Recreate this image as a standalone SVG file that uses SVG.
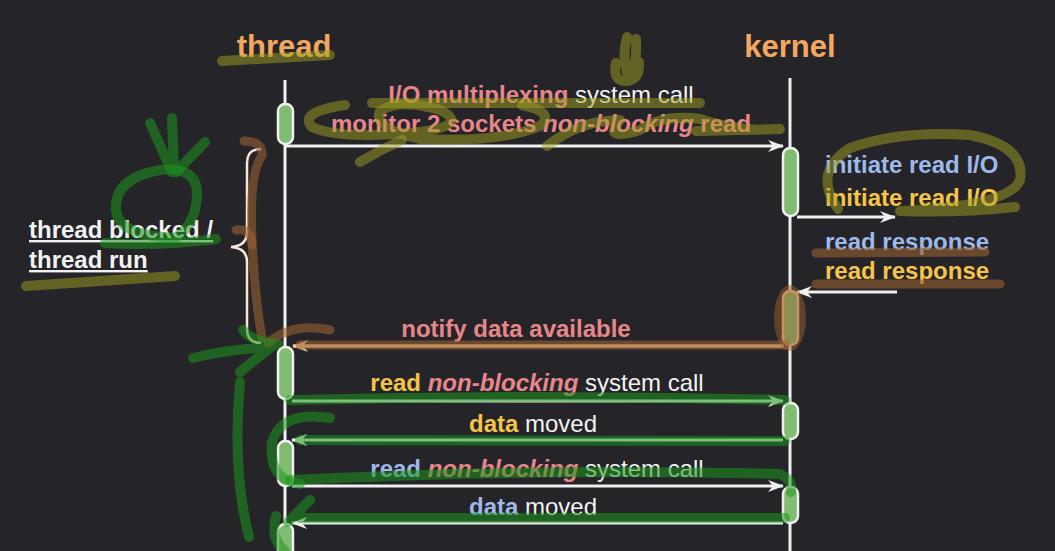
<svg xmlns="http://www.w3.org/2000/svg" width="1055" height="551" viewBox="0 0 1055 551">
<defs>
<style>
.t{font-family:"Liberation Sans",Arial,sans-serif;font-weight:bold;font-size:24px}
.title{font-family:"Liberation Sans",Arial,sans-serif;font-weight:bold;font-size:31px;fill:#f2a860}
.pk{fill:#e8878b}
.wh{fill:#f2f2f2;font-weight:normal}
.bl{fill:#9db9ea}
.ye{fill:#f5c54a}
.it{font-style:italic}
.life{stroke:#f0f0f0;stroke-width:3;fill:none}
.act{fill:#80bd72;stroke:#f0f0f0;stroke-width:2.5}
.acto{fill:#80bd72;stroke:#f5c79a;stroke-width:2.5}
.msg{stroke:#f0f0f0;stroke-width:3;fill:none;marker-end:url(#aw)}
.msgo{stroke:#f7cfa6;stroke-width:3.5;fill:none;marker-end:url(#ao)}
.hl{fill:none;stroke-linecap:round;stroke-linejoin:round}
.ol{stroke:#a0a022;stroke-opacity:0.5;stroke-width:10}
.gr{stroke:#1e961e;stroke-opacity:0.55;stroke-width:10}
.br{stroke:#9a6030;stroke-opacity:0.6;stroke-width:9}
</style>
<marker id="aw" viewBox="0 0 16 12" refX="15" refY="6" markerWidth="16" markerHeight="12" markerUnits="userSpaceOnUse" orient="auto">
<path d="M0,0 L16,6 L0,12 L5,6 z" fill="#f0f0f0"/>
</marker>
<marker id="ao" viewBox="0 0 16 12" refX="15" refY="6" markerWidth="16" markerHeight="12" markerUnits="userSpaceOnUse" orient="auto">
<path d="M0,0 L16,6 L0,12 L5,6 z" fill="#f7cfa6"/>
</marker>
</defs>
<rect width="1055" height="551" fill="#252428"/>

<g id="thread">
<text class="title" x="284" y="57" text-anchor="middle">thread</text>
<line class="life" x1="285" y1="80" x2="285" y2="551"/>
</g>
<g id="kernel">
<text class="title" x="790" y="57" text-anchor="middle">kernel</text>
<line class="life" x1="790" y1="78" x2="790" y2="551"/>
</g>

<g id="connectors">
<line class="msg" x1="286" y1="146" x2="783" y2="146"/>
<line class="msg" x1="797" y1="217" x2="895" y2="217"/>
<line class="msg" x1="897" y1="292" x2="797" y2="292"/>
<line class="msgo" x1="784" y1="346" x2="293" y2="346"/>
<line class="msg" x1="292" y1="401" x2="783" y2="401"/>
<line class="msg" x1="783" y1="440" x2="292" y2="440"/>
<line class="msg" x1="292" y1="486" x2="783" y2="486"/>
<line class="msg" x1="783" y1="523" x2="292" y2="523"/>
</g>

<g id="activations">
<rect class="act" x="278" y="104" width="15" height="40" rx="7"/>
<rect class="act" x="783" y="148" width="15" height="68" rx="7"/>
<rect class="acto" x="783" y="291" width="15" height="54" rx="7"/>
<rect class="act" x="278" y="347" width="15" height="52" rx="7"/>
<rect class="act" x="783" y="403" width="15" height="36" rx="7"/>
<rect class="act" x="278" y="441" width="15" height="45" rx="7"/>
<rect class="act" x="783" y="487" width="15" height="36" rx="7"/>
<rect class="act" x="278" y="524" width="15" height="40" rx="7"/>
</g>

<g id="labels">
<text class="t" x="541" y="103" text-anchor="middle"><tspan class="pk">I/O multiplexing</tspan><tspan class="wh"> system call</tspan></text>
<text class="t pk" x="541" y="132" text-anchor="middle">monitor 2 sockets <tspan class="it">non-blocking</tspan> read</text>
<text class="t bl" x="825" y="173">initiate read I/O</text>
<text class="t ye" x="825" y="206">initiate read I/O</text>
<text class="t bl" x="825" y="250">read response</text>
<text class="t ye" x="825" y="279">read response</text>
<text class="t pk" x="516" y="337" text-anchor="middle">notify data available</text>
<text class="t" x="537" y="391" text-anchor="middle"><tspan class="ye">read </tspan><tspan class="pk it">non-blocking</tspan><tspan class="wh"> system call</tspan></text>
<text class="t" x="533" y="432" text-anchor="middle"><tspan class="ye">data</tspan><tspan class="wh"> moved</tspan></text>
<text class="t" x="537" y="477" text-anchor="middle"><tspan class="bl">read </tspan><tspan class="pk it">non-blocking</tspan><tspan class="wh"> system call</tspan></text>
<text class="t" x="533" y="515" text-anchor="middle"><tspan class="bl">data</tspan><tspan class="wh"> moved</tspan></text>
</g>

<g id="blocked-note">
<text class="t" x="29" y="238" fill="#f2f2f2" text-decoration="underline">thread blocked /</text>
<text class="t" x="29" y="268" fill="#f2f2f2" text-decoration="underline">thread run</text>
<path d="M261,149 Q247,149 247,163 L247,232 Q247,246 231,247 Q247,248 247,262 L247,329 Q247,343 261,343" fill="none" stroke="#f7e6d6" stroke-width="2.5"/>
</g>

<g id="annotations">
<path class="hl ol" d="M222,61 Q275,58 330,55"/>
<path class="hl ol" d="M627,37 Q622,55 627,73 M636,39 Q637,56 633,73 M616,63 Q612,82 627,81 Q640,79 639,62"/>
<path class="hl ol" d="M345,105 Q298,112 312,127 Q340,140 420,132 Q470,125 440,110 Q400,98 380,111 Q372,128 420,139 Q500,143 540,126 Q556,112 522,105" stroke-width="8"/>
<path class="hl ol" d="M372,103 L700,103" stroke-width="7"/>
<path class="hl ol" d="M547,146 Q580,120 620,120 Q602,142 640,130 Q662,114 700,119 Q725,128 760,130 M696,131 L780,129" stroke-width="8"/>
<path class="hl ol" d="M360,162 Q380,150 402,140" stroke-width="8"/>
<path class="hl ol" d="M838,209 Q812,172 850,148 Q900,130 970,135 Q1026,146 1020,180 Q1010,206 900,211 Q960,213 1015,207" stroke-width="9"/>
<path class="hl ol" d="M26,286 Q100,281 175,276"/>
<path class="hl br" d="M816,253 L985,252 M816,284 L1000,284"/>
<ellipse cx="790" cy="318" rx="16" ry="33" fill="#9a6030" fill-opacity="0.5"/>
<path class="hl br" d="M785,345 L300,345" stroke-width="8"/>
<path class="hl br" d="M244,141 Q263,141 262,156 Q249,172 252,240 Q255,300 262,338" stroke-width="8"/>
<path class="hl br" d="M236,230 Q252,228 252,245" stroke-width="7"/>
<path class="hl br" d="M268,343 Q292,322 330,330" stroke-width="9"/>
<path class="hl gr" d="M176,238 Q118,236 116,210 Q114,178 160,170 Q198,166 197,195 Q196,222 178,236"/>
<path class="hl gr" d="M172,172 L150,123 M174,172 L172,118 M176,172 L205,142"/>
<path class="hl gr" d="M105,243 Q160,246 216,239" stroke-width="7"/>
<path class="hl gr" d="M249,537 Q232,470 240,382 M240,372 L272,346 M193,358 Q230,349 272,347 M243,330 Q252,342 278,344"/>
<path class="hl gr" d="M290,400 Q540,394 785,400" stroke-width="8"/>
<path class="hl gr" d="M330,418 Q282,410 272,442 Q268,480 300,484 M300,440 L785,441" stroke-width="8"/>
<path class="hl gr" d="M290,480 Q540,468 780,474 Q793,480 791,492" stroke-width="8"/>
<path class="hl gr" d="M785,518 L300,518 M310,500 L288,522 M276,516 Q270,540 285,551" stroke-width="8"/>
</g>
</svg>
